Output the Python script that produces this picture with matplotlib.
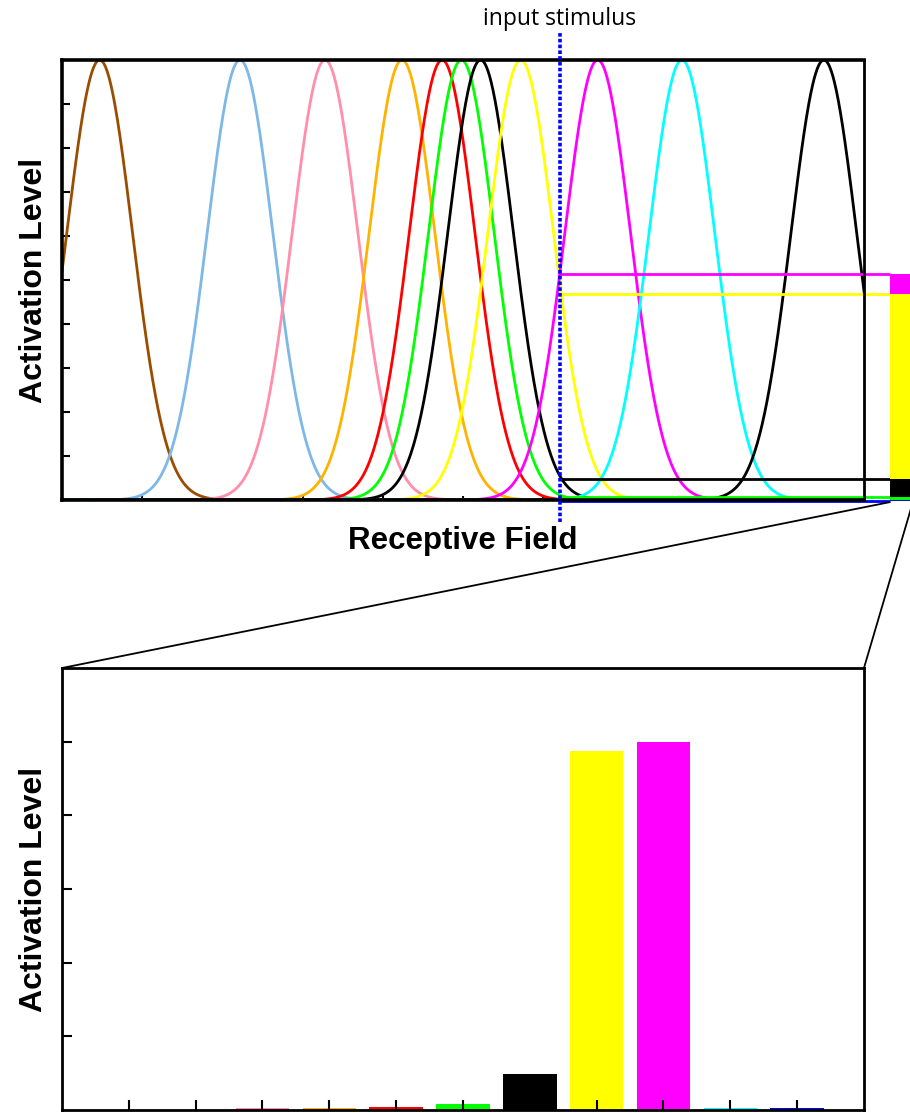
import numpy as np
import matplotlib.pyplot as plt
from matplotlib.patches import ConnectionPatch

plt.rcParams['font.family'] = ['Liberation Sans', 'DejaVu Sans']

# tuning curves: preferred position of each neuron on the receptive field
curve_colors = ['#9a4d00', '#7db8e8', '#ff8fab', '#ffb300', '#ff0000', '#00ff00',
                '#000000', '#ffff00', '#ff00ff', '#00ffff', '#000000']
centers = [0.47, 2.22, 3.28, 4.24, 4.74, 4.98, 5.22, 5.72, 6.68, 7.73, 9.50]
tuning_width = 0.41
stimulus = 6.21

# activation of each neuron at the stimulus (horizontal read-out lines)
resp_colors = ['#ff00ff', '#ffff00', '#000000', '#00ff00', '#0000ff']
resp_values = [0.513, 0.467, 0.048, 0.007, -0.003]

# bottom panel: activation level per neuron
bar_positions = [1, 2, 3, 4, 5, 6, 7, 8, 9, 10, 11]
bar_values = [0.0, 0.0, 0.025, 0.03, 0.04, 0.08, 0.49, 4.87, 5.0, 0.025, 0.028]
bar_colors = ['#9a4d00', '#7db8e8', '#ff8fab', '#ffb300', '#ff0000', '#00ff00',
              '#000000', '#ffff00', '#ff00ff', '#00ffff', '#0000ff']

fig = plt.figure(figsize=(9.1, 11.13), dpi=100)
ax1 = fig.add_axes([0.0681, 0.5508, 0.8813, 0.3953])
ax2 = fig.add_axes([0.0681, 0.0027, 0.8813, 0.3971])

# --- top: receptive field tuning curves
x = np.linspace(-1, 11, 2000)
for c, col in zip(centers, curve_colors):
    ax1.plot(x, np.exp(-(x - c) ** 2 / (2 * tuning_width ** 2)), color=col, lw=2)

ax1.set_xlim(0, 10)
ax1.set_ylim(0, 1)
ax1.set_xticks(np.arange(1, 10))
ax1.set_yticks(np.arange(0.1, 1.0, 0.1))
ax1.set_xticklabels([])
ax1.set_yticklabels([])
ax1.tick_params(axis='y', direction='in', length=6, width=1.5)
ax1.tick_params(axis='x', direction='in', length=3, width=1.5)
for side in ['top', 'left', 'bottom']:
    ax1.spines[side].set_linewidth(2.6)
ax1.spines['right'].set_linewidth(2)
ax1.set_xlabel('Receptive Field', fontsize=22.5, fontweight='bold', labelpad=15)
ax1.set_ylabel('Activation Level', fontsize=23, fontweight='bold', labelpad=6)

# read-out lines and the overlapping bar at the right edge
bar_left, bar_right = 10.32, 10.61
ax1.hlines(resp_values, stimulus, bar_left, colors=resp_colors, lw=2, clip_on=False)
for v, col in zip(resp_values, resp_colors):
    ax1.bar(bar_left, v, width=bar_right - bar_left, align='edge', color=col,
            clip_on=False, zorder=3)

# stimulus marker
ax1.plot([stimulus, stimulus], [-0.05, 1.066], color='#0000ff', lw=2.6,
         linestyle=(0, (1, 0.6)), clip_on=False, zorder=4)
ax1.text(stimulus, 1.066, 'input stimulus', ha='center', va='bottom', fontsize=16.5,
         family=['Open Sans', 'DejaVu Sans'])

# --- bottom: activation per neuron
ax2.bar(bar_positions, bar_values, width=0.8, color=bar_colors)
ax2.set_xlim(0, 12)
ax2.set_ylim(0, 6)
ax2.set_xticks(bar_positions)
ax2.set_yticks([1, 2, 3, 4, 5])
ax2.set_xticklabels([])
ax2.set_yticklabels([])
ax2.tick_params(direction='in', length=7, width=1.5)
for side in ax2.spines:
    ax2.spines[side].set_linewidth(2)
ax2.set_ylabel('Activation Level', fontsize=23, fontweight='bold', labelpad=6)

# zoom lines from the read-out bar to the bottom panel
for xa, xb in [(bar_left, 0), (bar_right, 1)]:
    con = ConnectionPatch(xyA=(xa, -0.005), coordsA=ax1.transData,
                          xyB=(xb, 1), coordsB=ax2.transAxes, color='black', lw=1.3)
    fig.add_artist(con)

fig.savefig('out.png', dpi=100)
